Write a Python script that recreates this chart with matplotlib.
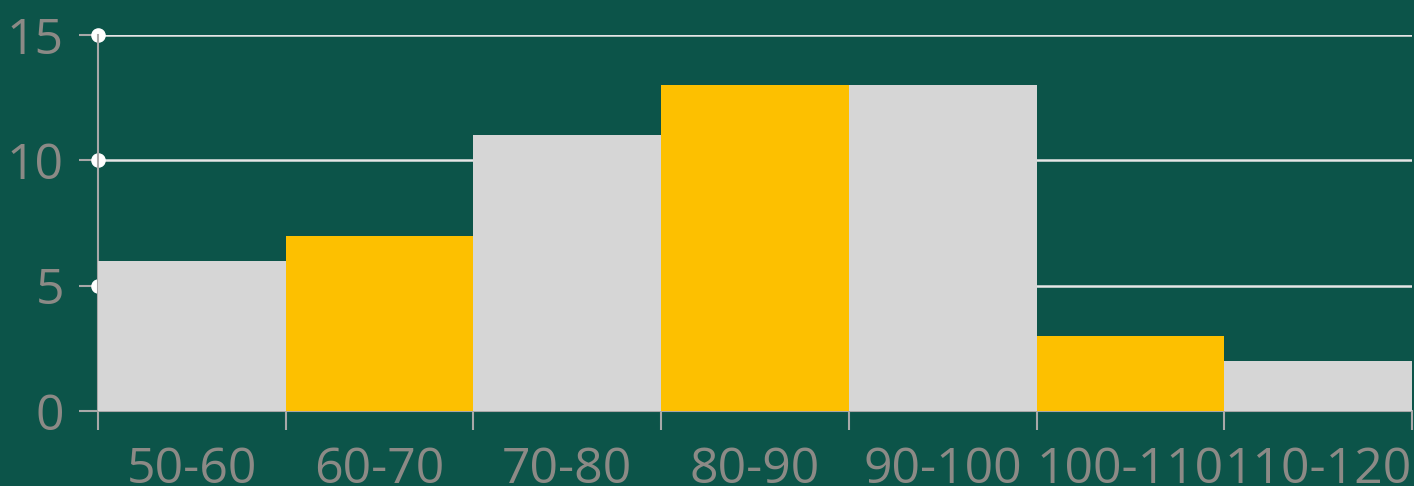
import numpy as np
import matplotlib.pyplot as plt

# Datos
categorias = ["50-60", "60-70", "70-80", "80-90", "90-100", "100-110", "110-120"]
valores = [6, 7, 11, 13, 13, 3, 2]
colores = ["#d6d6d6", "#fdc000", "#d6d6d6", "#fdc000", "#d6d6d6", "#fdc000", "#d6d6d6"]
yticks = [0, 5, 10, 15]

fondo = "#0c5449"
gris = "#8c8a86"

plt.rcParams['font.family'] = ['Open Sans', 'DejaVu Sans']

fig = plt.figure(figsize=(14.14, 4.86), dpi=100, facecolor=fondo)
ax = fig.add_axes([98/1414, 75/486, 1314/1414, 376/486])
ax.set_facecolor(fondo)

x = np.arange(len(categorias))
ax.bar(x, valores, width=1.0, align='edge', color=colores, zorder=3)

ax.set_xlim(0, len(categorias))
ax.set_ylim(0, 15)

# lineas de la grilla
for t in yticks[1:]:
    ax.axhline(t, color="#e6e6e6", lw=1.8, zorder=1)
ax.scatter([0]*3, yticks[1:], s=90, color="white", zorder=2, clip_on=False)

for s in ["top", "right"]:
    ax.spines[s].set_visible(False)
ax.spines["left"].set_color("#a8a8a8")
ax.spines["left"].set_linewidth(1.5)
ax.spines["left"].set_zorder(2.5)
ax.spines["bottom"].set_color("#a8a8a8")
ax.spines["bottom"].set_linewidth(1.5)

ax.set_yticks(yticks)
ax.set_yticklabels([str(t) for t in yticks])
ax.tick_params(axis='y', colors="#a8a8a8", labelcolor=gris, length=13.5, width=1.5,
               labelsize=36, pad=11)

ax.set_xticks(np.arange(len(categorias) + 1))
ax.set_xticklabels([])
ax.set_xticks(x + 0.5, minor=True)
ax.set_xticklabels(categorias, minor=True)
ax.tick_params(axis='x', which='major', colors="#a8a8a8", length=13.5, width=1.5)
ax.tick_params(axis='x', which='minor', length=0, labelcolor=gris, labelsize=36, pad=25)

fig.savefig("out.png", dpi=100, facecolor=fondo)
